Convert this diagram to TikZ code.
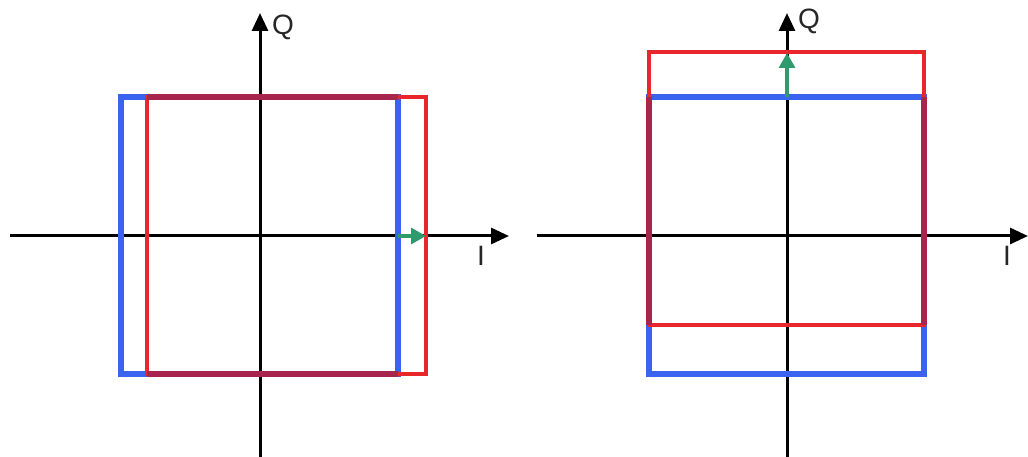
\documentclass[tikz,border=0pt]{standalone}
\usepackage{fontspec}
\setmainfont{Liberation Sans}
\usetikzlibrary{arrows.meta}
\definecolor{bl}{HTML}{3A64F0}
\definecolor{rd}{HTML}{E8262B}
\definecolor{mix}{HTML}{A8254E}
\definecolor{gr}{HTML}{2E9B6C}
\begin{document}
\begin{tikzpicture}[x=1pt,y=-1pt,
  axis/.style={line width=3pt,black,-{Triangle[length=18pt,width=16pt]}},
  bluebox/.style={draw=bl,line width=5.5pt},
  redbox/.style={draw=rd,line width=3.2pt},
  overlap/.style={draw=mix,line width=5.5pt},
  shiftarrow/.style={line width=3.2pt,gr,-{Triangle[length=15pt,width=16pt]}},
  lbl/.style={font=\fontsize{28}{30}\selectfont,inner sep=0pt,text=black!85}]
\useasboundingbox (0,0) rectangle (1028,457);
% left diagram
\coordinate (L1) at (10,236);
\coordinate (L2) at (509,236);
\coordinate (L3) at (260,457);
\coordinate (L4) at (260,13);
\draw[axis] (L1) -- (L2);
\draw[axis] (L3) -- (L4);
\node[lbl] (lq) at (283,27) {Q};
\node[lbl] (li) at (481,256) {I};
\draw[bluebox] (121,97) rectangle (398,374);
\draw[redbox] (147,97) rectangle (426,374);
\draw[overlap] (147,97) -- (398,97);
\draw[overlap] (147,374) -- (398,374);
\coordinate (ga1) at (398,236);
\coordinate (ga2) at (426,236);
\draw[shiftarrow] (ga1) -- (ga2);
% right diagram
\coordinate (R1) at (537,236);
\coordinate (R2) at (1028,236);
\coordinate (R3) at (787,457);
\coordinate (R4) at (787,13);
\draw[axis] (R1) -- (R2);
\draw[axis] (R3) -- (R4);
\node[lbl] (rq) at (809,21) {Q};
\node[lbl] (ri) at (1007,256) {I};
\draw[bluebox] (649,97) rectangle (924,374);
\draw[redbox] (649,52) rectangle (924,325);
\draw[overlap] (649,97) -- (649,325);
\draw[overlap] (924,97) -- (924,325);
\coordinate (gb1) at (787,97);
\coordinate (gb2) at (787,53);
\draw[shiftarrow] (gb1) -- (gb2);
\end{tikzpicture}
\end{document}
